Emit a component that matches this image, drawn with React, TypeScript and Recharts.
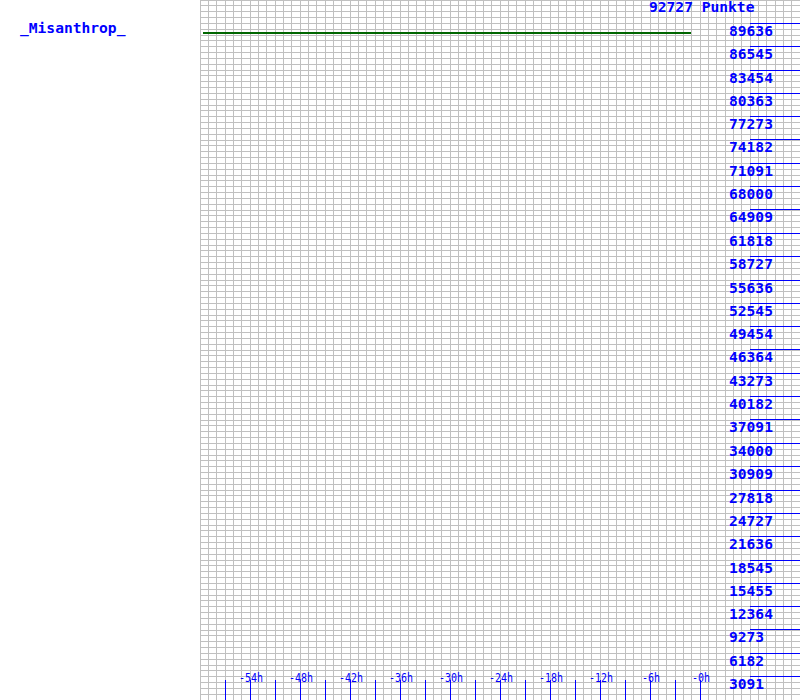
import React from "react";
import { LineChart, Line, XAxis, YAxis, CartesianGrid } from "recharts";

// score history (hours relative to now)
const hours = [-59.7, -48, -36, -24, -12, -1.1];
const points = [88356, 88356, 88356, 88356, 88356, 88356];

const playerName = "_Misanthrop_";
const totalLabel = "92727 Punkte";
const scoreMax = 92727;

const hourTicks = [-57, -54, -51, -48, -45, -42, -39, -36, -33, -30, -27, -24, -21, -18, -15, -12, -9, -6, -3, 0];
const labelHours = [-54, -48, -42, -36, -30, -24, -18, -12, -6, 0];
const hourLabels = ["-54h", "-48h", "-42h", "-36h", "-30h", "-24h", "-18h", "-12h", "-6h", "-0h"];

const scoreTicks = [
  3091, 6182, 9273, 12364, 15455, 18545, 21636, 24727, 27818, 30909, 34000,
  37091, 40182, 43273, 46364, 49454, 52545, 55636, 58727, 61818, 64909, 68000,
  71091, 74182, 77273, 80363, 83454, 86545, 89636,
];

const BLUE = "#0000ff";
const FONT = "'DejaVu Sans Mono', monospace";

const data = hours.map((h, i) => ({ h, score: points[i] }));

// grid: one column per hour, four rows per score tick
const gridX = Array.from({ length: 72 }, (_, i) => -60 + i);
const gridY = Array.from({ length: 121 }, (_, i) => (scoreMax * i) / 120);

const HourTick = (props: any) => {
  const { x, y, payload } = props;
  const idx = labelHours.indexOf(payload.value);
  const label = idx >= 0 ? hourLabels[idx] : null;
  return (
    <g>
      <line x1={x} x2={x} y1={y - 20} y2={y} stroke={BLUE} />
      {label && (
        <text
          x={x + 1}
          y={y - 18}
          textAnchor="middle"
          fill={BLUE}
          fontSize={12}
          fontFamily={FONT}
          textLength={label.length * 6}
          lengthAdjust="spacingAndGlyphs"
        >
          {label}
        </text>
      )}
    </g>
  );
};

const ScoreTick = (props: any) => {
  const { x, y, payload } = props;
  return (
    <g>
      <line x1={x - 50} x2={x} y1={y} y2={y} stroke={BLUE} />
      <text x={x - 71} y={y + 12.5} textAnchor="start" fill={BLUE} fontSize={14.6} fontWeight="bold" fontFamily={FONT}>
        {payload.value}
      </text>
    </g>
  );
};

export default function App() {
  return (
    <div
      style={{
        position: "absolute",
        left: 0,
        top: 0,
        width: 800,
        height: 700,
        background: "#fff",
        shapeRendering: "crispEdges",
      }}
    >
      <LineChart width={800} height={700} data={data} margin={{ top: 0, right: 0, left: 200, bottom: 0 }}>
        <CartesianGrid stroke="#c0c0c0" verticalValues={gridX} horizontalValues={gridY} />
        <XAxis
          dataKey="h"
          type="number"
          domain={[-60, 12]}
          ticks={hourTicks}
          interval={0}
          mirror
          height={30}
          tickSize={0}
          tickMargin={0}
          axisLine={false}
          tickLine={false}
          tick={<HourTick />}
        />
        <YAxis
          orientation="right"
          type="number"
          domain={[0, scoreMax]}
          allowDataOverflow
          ticks={scoreTicks}
          interval={0}
          mirror
          width={80}
          tickSize={0}
          tickMargin={0}
          axisLine={false}
          tickLine={false}
          tick={<ScoreTick />}
        />
        <Line
          dataKey="score"
          stroke="#006600"
          strokeWidth={2}
          dot={false}
          activeDot={false}
          isAnimationActive={false}
        />
      </LineChart>
      <svg width={800} height={700} style={{ position: "absolute", left: 0, top: 0, pointerEvents: "none" }}>
        <text x={20} y={33} fill={BLUE} fontSize={14.6} fontWeight="bold" fontFamily={FONT}>
          {playerName}
        </text>
        <text x={649} y={12} fill={BLUE} fontSize={14.6} fontWeight="bold" fontFamily={FONT}>
          {totalLabel}
        </text>
      </svg>
    </div>
  );
}
